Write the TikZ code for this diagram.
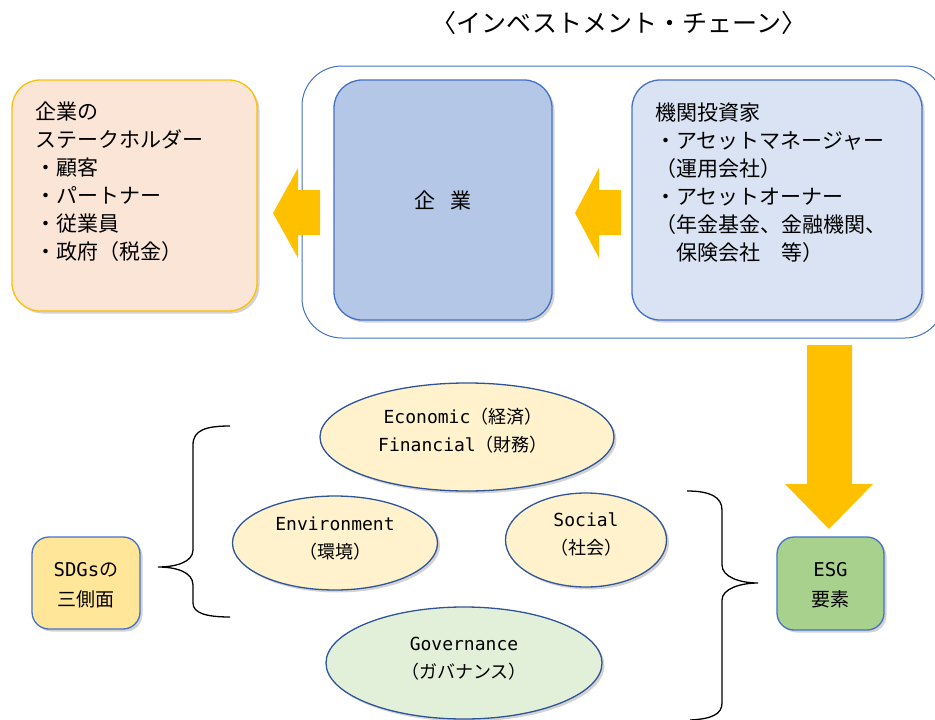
\documentclass[tikz,border=0pt]{standalone}
\usepackage{fontspec}
\setmainfont{Noto Sans CJK JP}
\newfontfamily\lat{DejaVu Sans Mono}
\usetikzlibrary{shadows,shapes.geometric}
\definecolor{gold}{HTML}{FFC000}
\definecolor{peach}{HTML}{FBE5D6}
\definecolor{bluebd}{HTML}{4472C4}
\definecolor{bluemid}{HTML}{B4C7E7}
\definecolor{bluelt}{HTML}{DAE3F3}
\definecolor{yel}{HTML}{FFF2CC}
\definecolor{yel2}{HTML}{FFE699}
\definecolor{grn}{HTML}{A9D18E}
\definecolor{grnlt}{HTML}{E2F0D9}
\definecolor{ellbd}{HTML}{2F5597}
\begin{document}
\begin{tikzpicture}[x=1pt,y=-1pt,
  shad/.style={drop shadow={opacity=0.35,shadow xshift=2.5pt,shadow yshift=-2.5pt}},
  bigbox/.style={shad, draw=bluebd, line width=1.3pt, rounded corners=28pt, inner sep=0pt},
  smallbox/.style={shad, draw=bluebd, line width=1.3pt, rounded corners=17pt, inner sep=0pt},
  ell/.style={shad, ellipse, draw=ellbd, line width=1.3pt, inner sep=0pt},
  txt/.style={inner sep=0pt, align=left, font=\fontsize{21}{28}\selectfont},
  ctxt/.style={inner sep=0pt, align=center, font=\fontsize{18}{28}\selectfont},
  blockarrow/.style={fill=gold, draw=none},
  bracepath/.style={line width=1.3pt, draw=black}
]
\useasboundingbox (0,0) rectangle (935,720);

% title
\node[inner sep=0pt, font=\fontsize{25}{28}\selectfont] (title) at (619,23) {〈インベストメント・チェーン〉};

% container
\draw[draw=bluebd, line width=1pt, rounded corners=40pt] (302,66) rectangle (945,338);

% boxes
\node[bigbox, draw=gold, fill=peach, minimum width=245pt, minimum height=231pt] (stake) at (134.5,195.5) {};
\node[txt, anchor=west] (staketxt) at (35,182) {企業の\\ステークホルダー\\・顧客\\・パートナー\\・従業員\\・政府（税金）};

\node[bigbox, fill=bluemid, minimum width=218pt, minimum height=240pt] (firm) at (443,200) {};
\node[inner sep=0pt, font=\fontsize{21}{28}\selectfont] (firmtxt) at (443,200) {企\hspace{16pt}業};

\node[bigbox, fill=bluelt, minimum width=290pt, minimum height=240pt] (inv) at (777,200) {};
\node[txt, anchor=west] (invtxt) at (655,182.5) {機関投資家\\・アセットマネージャー\\（運用会社）\\・アセットオーナー\\（年金基金、金融機関、\\　保険会社　等）};

% block arrows
\fill[blockarrow] (273,213) -- (298,168) -- (298,190) -- (320,190) -- (320,235) -- (298,235) -- (298,258) -- cycle;
\fill[blockarrow] (575,213) -- (599,168) -- (599,190) -- (621,190) -- (621,235) -- (599,235) -- (599,258) -- cycle;
\fill[blockarrow] (807,345) -- (852,345) -- (852,484) -- (873,484) -- (829,529) -- (785,484) -- (807,484) -- cycle;

% small boxes
\node[smallbox, fill=grn, minimum width=107pt, minimum height=93pt] (esg) at (830.5,583.5) {};
\node[ctxt, font=\fontsize{19}{30}\selectfont] (esgtxt) at (830.5,585) {{\lat ESG}\\要素};
\node[smallbox, fill=yel2, minimum width=108pt, minimum height=92pt] (sdg) at (86,583) {};
\node[ctxt, font=\fontsize{19}{30}\selectfont] (sdgtxt) at (86,585) {{\lat SDGs}の\\三側面};

% ellipses
\node[ell, fill=yel, minimum width=294pt, minimum height=108pt] (econ) at (467,437) {};
\node[ctxt] (econtxt) at (463,431) {{\lat Economic}（経済）\\{\lat Financial}（財務）};
\node[ell, fill=yel, minimum width=205pt, minimum height=94pt] (env) at (335,543) {};
\node[ctxt] (envtxt) at (335,539) {{\lat Environment}\\（環境）};
\node[ell, fill=yel, minimum width=161pt, minimum height=94pt] (soc) at (586,540) {};
\node[ctxt] (soctxt) at (586,534) {{\lat Social}\\（社会）};
\node[ell, fill=grnlt, minimum width=276pt, minimum height=112pt] (gov) at (464,663) {};
\node[ctxt] (govtxt) at (464,659) {{\lat Governance}\\（ガバナンス）};

% braces
\draw[bracepath] (230,426) .. controls (206,426) and (193,430) .. (193,445) -- (193,550)
  .. controls (193,562) and (176,567) .. (158,567)
  .. controls (176,567) and (193,572) .. (193,585) -- (193,603)
  .. controls (193,613) and (206,617) .. (230,617);
\draw[bracepath] (687,491) .. controls (710,491) and (722,497) .. (722,510) -- (722,565)
  .. controls (722,577) and (740,583) .. (758,583)
  .. controls (740,583) and (722,589) .. (722,600) -- (722,703)
  .. controls (722,714) and (712,719) .. (690,720);
\end{tikzpicture}
\end{document}
